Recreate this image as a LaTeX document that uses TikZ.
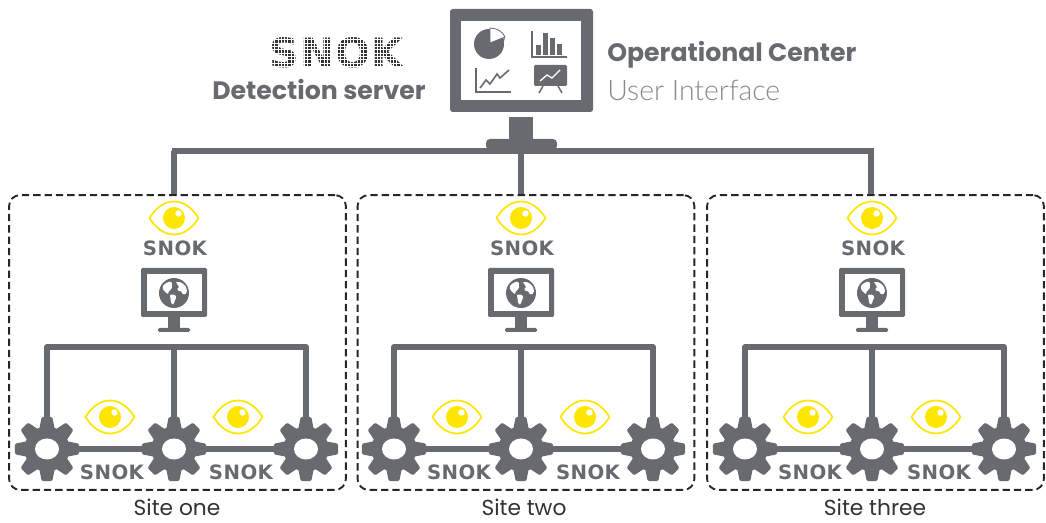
\documentclass[tikz,border=0pt]{standalone}
\usepackage{fontspec}
\setmainfont{Poppins}
\newfontfamily\logofont[LetterSpace=2]{DejaVu Sans}
\newfontfamily\lightfont{Lato Light}
\usetikzlibrary{calc}
\definecolor{slate}{HTML}{676B70}
\definecolor{lightslate}{HTML}{85888C}
\definecolor{logodark}{HTML}{303234}
\definecolor{eyeyellow}{HTML}{FFE600}
\newcommand{\snokword}[2]{\resizebox{#1pt}{#2pt}{\logofont\bfseries SNOK}}
\tikzset{
	wire/.style={draw=slate, line width=5pt, line join=round},
	thinwire/.style={draw=slate, line width=4.5pt, line cap=round, line join=round},
	sitebox/.style={draw=black!85, dash pattern=on 5.5pt off 3pt, line width=1.4pt, rounded corners=8pt, minimum width=252.5pt, minimum height=221pt, inner sep=0pt},
	sitelabel/.style={font=\fontsize{16.3}{18}\selectfont, text=black!80, inner sep=0pt},
	smalllogo/.style={text=slate, inner sep=0pt},
	eyeicon/.pic={
		\draw[eyeyellow, fill=white, line width=1.3pt, line join=round] (-24.5,0) .. controls (-11,-22) and (11,-22) .. (24.5,0) .. controls (11,22) and (-11,22) .. (-24.5,0) -- cycle;
		\fill[eyeyellow] (0,0) circle (11);
		\fill[white] (4.5,-4.5) circle (3.2);
	},
	gearicon/.pic={
		\foreach \a in {0,45,...,315}{
			\fill[slate, rotate=\a, draw=slate, line width=2.4pt, line join=round] (18,-6.5) -- (30.5,-4) -- (30.5,4) -- (18,6.5) -- cycle;
		}
		\fill[slate] (0,0) circle (22.5);
		\fill[white] (0,0) ellipse (12 and 10.5);
	},
	globeicon/.pic={
		\fill[slate] (0,0) circle (15);
		\fill[white] (-11,-7) .. controls (-6,-13) and (-1,-12) .. (-2,-8) .. controls (-1,-3) and (-6,-3) .. (-6,1) .. controls (-9,-1) and (-12,-3) .. (-11,-7) -- cycle;
		\fill[white] (-4,2) .. controls (1,0) and (4,4) .. (1,7) .. controls (0,12) and (-2,13) .. (-3,9) -- cycle;
		\fill[white] (2,-11) .. controls (7,-12) and (13,-8) .. (13,-2) .. controls (12,3) and (8,2) .. (7,-2) .. controls (4,-1) and (2,-4) .. (5,-6) -- cycle;
	}
}
\begin{document}
\begin{tikzpicture}[x=0.75pt, y=-0.75pt]
	\useasboundingbox (0,0) rectangle (1046,523);

	% Main monitor
	\fill[slate, rounded corners=2pt] (450,9) rectangle (593,112);
	\fill[white] (461,21) rectangle (581,100);
	\fill[slate] (509,117) rectangle (533,141);
	\fill[slate, rounded corners=3pt] (486,139) rectangle (557,150);

	% Pie chart
	\fill[slate] (489,44) circle (15);
	\draw[slate, fill=white, line width=0.6pt] (490,43) -- (490,28) .. controls (497,28) and (503,32) .. (505,37) -- cycle;
	\fill[slate] (491,43) -- (505,38) -- (504,41) -- cycle;

	% Bar chart
	\draw[slate, line width=0.9pt] (532,31) -- (532,57) -- (567,57);
	\fill[slate] (536,45) rectangle (541,55);
	\fill[slate] (543,33) rectangle (548,55);
	\fill[slate] (550,38) rectangle (555,55);
	\fill[slate] (557,44) rectangle (562,55);

	% Line chart
	\draw[slate, line width=0.9pt] (476,68) -- (476,92) -- (511,92);
	\draw[slate, line width=1.2pt] (480,88) -- (486,80) -- (490,84) -- (497,74) -- (500,78) -- (509,70);

	% Presentation board
	\fill[slate, rounded corners=1pt] (534,65) rectangle (567,86);
	\draw[white, line width=1pt] (540,81) -- (547,75) -- (552,78) -- (560,70);
	\draw[slate, line width=1.1pt] (543,86) -- (539,93);
	\draw[slate, line width=1.1pt] (558,86) -- (562,93);

	% Header texts
	\node[inner sep=0pt, text=logodark] (logomain) at (336.5,53) {\snokword{100}{22.5}};
	\foreach \i in {0,...,41}{
		\draw[white, line width=0.5pt] (268+\i*3.3,36) -- (268+\i*3.3,70);
	}
	\foreach \i in {0,...,10}{
		\draw[white, line width=0.5pt] (268,36.5+\i*3.3) -- (405,36.5+\i*3.3);
	}
	\node[anchor=east, inner sep=0pt, text=slate, font=\fontsize{18.9}{20}\selectfont\bfseries] (detect) at (426,90) {Detection server};
	\node[anchor=west, inner sep=0pt, text=slate, font=\fontsize{18.9}{20}\selectfont\bfseries] (opcenter) at (607,55) {Operational Center};
	\node[anchor=west, inner sep=0pt, text=lightslate, font=\fontsize{21.3}{22}\lightfont] (userif) at (607,90) {User Interface};

	% Top bus
	\coordinate (topleft) at (174,151);
	\coordinate (topmid) at (521,151);
	\coordinate (topright) at (871,151);
	\draw[wire] (topleft) -- (topright);
	\draw[wire] (171.5,151) -- (174,151) -- (174,195);
	\draw[wire] (topmid) -- (521,195);
	\draw[wire] (873.5,151) -- (871,151) -- (871,195);

	% The three sites
	\foreach \off/\boxoff/\name in {0/0/Site one,347/1.5/Site two,698/0/Site three}{
		\begin{scope}[shift={(\off,0)}]
			\node[sitebox] (site) at (177.5+\boxoff,342.5) {};
			\node[sitelabel] (sitetext) at (177,507.5) {\name};

			% Site monitor
			\fill[slate, rounded corners=1pt] (141,268) rectangle (207,317);
			\fill[white] (147,274) rectangle (202,311);
			\fill[slate] (168,317) rectangle (180,329);
			\fill[slate, rounded corners=1pt] (158,328) rectangle (190,332);
			\pic at (174,293) {globeicon};

			% Eye and logo over the monitor
			\pic at (174,218) {eyeicon};
			\node[smalllogo] (logotop) at (175,248) {\snokword{48}{11}};

			% Wires
			\coordinate (gearA) at (47,449);
			\coordinate (gearB) at (174,449);
			\coordinate (gearC) at (306,449);
			\coordinate (busA) at (47,347);
			\coordinate (busB) at (174,347);
			\coordinate (busC) at (306,347);
			\draw[thinwire] (gearA) -- (busA) -- (busC) -- (gearC);
			\draw[thinwire] (busB) -- (gearB);
			\draw[thinwire] (gearA) -- (gearC);

			% Gears
			\pic at (gearA) {gearicon};
			\pic at (gearB) {gearicon};
			\pic at (gearC) {gearicon};

			% Eyes and logos between the gears
			\pic at (110,417) {eyeicon};
			\pic at (238,417) {eyeicon};
			\node[smalllogo] (logoleft) at (112,472) {\snokword{48}{11}};
			\node[smalllogo] (logoright) at (241,472) {\snokword{48}{11}};
		\end{scope}
	}
\end{tikzpicture}
\end{document}
